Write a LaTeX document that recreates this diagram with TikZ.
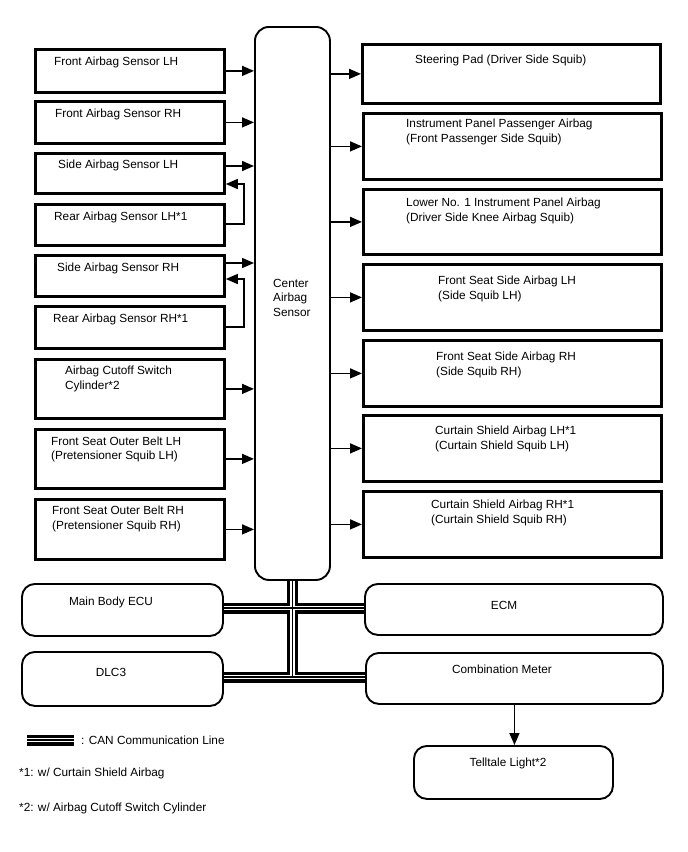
\documentclass[tikz,border=0pt]{standalone}
\usepackage{fontspec}
\setmainfont{Liberation Sans}
\usepackage{tikz}
\usetikzlibrary{arrows.meta,calc}

\begin{document}
\begin{tikzpicture}[x=1pt, y=-1pt,
    sbox/.style={rectangle, draw, line width=2.8pt, minimum width=189pt, anchor=north west},
    rbox/.style={rectangle, draw, line width=2.8pt, minimum width=298pt, anchor=north west},
    ubox/.style={rectangle, draw, rounded corners=13pt, line width=1.9pt, anchor=north west},
    lbl/.style={anchor=west, align=left, inner sep=0pt, font=\fontsize{11.8}{14.5}\selectfont},
    clbl/.style={lbl, anchor=center},
    arrow/.style={-{Triangle[length=12pt, width=10pt]}, line width=1.5pt},
    can/.style={line width=11pt, postaction={draw, white, line width=4.6pt, postaction={draw, black, line width=1.4pt}}}
]
    \useasboundingbox (0,0) rectangle (688,852);

    % Sensors (left column)
    \node[sbox, minimum height=43pt] (falh) at (34,48) {};
    \node[sbox, minimum height=42pt] (farh) at (34,100) {};
    \node[sbox, minimum height=40pt] (salh) at (34,152) {};
    \node[sbox, minimum height=41pt] (ralh) at (34,203) {};
    \node[sbox, minimum height=41pt] (sarh) at (34,254) {};
    \node[sbox, minimum height=42pt] (rarh) at (34,305) {};
    \node[sbox, minimum height=59pt] (acsc) at (34,358) {};
    \node[sbox, minimum height=59pt] (fsbl) at (34,428) {};
    \node[sbox, minimum height=60pt] (fsbr) at (34,498) {};

    \node[lbl] (falh-l) at (54,62) {Front Airbag Sensor LH};
    \node[lbl] (farh-l) at (55,114) {Front Airbag Sensor RH};
    \node[lbl] (salh-l) at (58,165) {Side Airbag Sensor LH};
    \node[lbl] (ralh-l) at (54,217) {Rear Airbag Sensor LH*1};
    \node[lbl] (sarh-l) at (57,268) {Side Airbag Sensor RH};
    \node[lbl] (rarh-l) at (53,319) {Rear Airbag Sensor RH*1};
    \node[lbl] (acsc-l) at (65,379) {Airbag Cutoff Switch\\Cylinder*2};
    \node[lbl] (fsbl-l) at (51,449.5) {Front Seat Outer Belt LH\\(Pretensioner Squib LH)};
    \node[lbl] (fsbr-l) at (52,519) {Front Seat Outer Belt RH\\(Pretensioner Squib RH)};

    % Center Airbag Sensor
    \node[ubox, rounded corners=14pt, minimum width=75pt, minimum height=553pt] (cas) at (254,26) {};
    \node[lbl] (cas-l) at (273,297.5) {Center\\Airbag\\Sensor};

    % Squibs (right column)
    \node[rbox, minimum height=59pt] (spad) at (361,43) {};
    \node[rbox, minimum height=66pt] (ipab) at (362,112) {};
    \node[rbox, minimum height=65pt] (lkab) at (362,188) {};
    \node[rbox, minimum height=66pt] (fsal) at (362,263) {};
    \node[rbox, minimum height=66pt] (fsar) at (362,339) {};
    \node[rbox, minimum height=66pt] (csal) at (362,414) {};
    \node[rbox, minimum height=66pt] (csar) at (362,490) {};

    \node[lbl] (spad-l) at (415,60) {Steering Pad (Driver Side Squib)};
    \node[lbl] (ipab-l) at (406,132) {Instrument Panel Passenger Airbag\\(Front Passenger Side Squib)};
    \node[lbl] (lkab-l) at (406,211) {Lower No. 1 Instrument Panel Airbag\\(Driver Side Knee Airbag Squib)};
    \node[lbl] (fsal-l) at (438,289) {Front Seat Side Airbag LH\\(Side Squib LH)};
    \node[lbl] (fsar-l) at (436,365) {Front Seat Side Airbag RH\\(Side Squib RH)};
    \node[lbl] (csal-l) at (435,439) {Curtain Shield Airbag LH*1\\(Curtain Shield Squib LH)};
    \node[lbl] (csar-l) at (431,513) {Curtain Shield Airbag RH*1\\(Curtain Shield Squib RH)};

    % CAN nodes
    \node[ubox, minimum width=201pt, minimum height=52pt] (mbecu) at (21,583) {};
    \node[ubox, minimum width=201pt, minimum height=54pt] (dlc) at (21,651) {};
    \node[ubox, minimum width=298pt, minimum height=51pt] (ecm) at (364,583) {};
    \node[ubox, minimum width=297pt, minimum height=51pt] (cmtr) at (365,652) {};
    \node[ubox, minimum width=199pt, minimum height=53pt] (tell) at (413,745) {};

    \node[clbl] (mbecu-l) at (111,602) {Main Body ECU};
    \node[clbl] (dlc-l) at (111,672) {DLC3};
    \node[clbl] (ecm-l) at (504,605) {ECM};
    \node[clbl] (cmtr-l) at (502,669) {Combination Meter};
    \node[clbl] (tell-l) at (508,763) {Telltale Light*2};

    % Arrows into the sensor
    \draw[arrow] (falh.east) -- (falh.east -| cas.west);
    \draw[arrow] (farh.east) -- (farh.east -| cas.west);
    \draw[arrow] (salh.east |- 0,166) -- (cas.west |- 0,166);
    \draw[arrow] (ralh.east |- 0,224) -- ++(18,0) |- (salh.east |- 0,184);
    \draw[arrow] (sarh.east |- 0,263) -- (cas.west |- 0,263);
    \draw[arrow] (rarh.east |- 0,327) -- ++(18,0) |- (sarh.east |- 0,279);
    \draw[arrow] (acsc.east) -- (acsc.east -| cas.west);
    \draw[arrow] (fsbl.east) -- (fsbl.east -| cas.west);
    \draw[arrow] (fsbr.east) -- (fsbr.east -| cas.west);

    % Arrows out to the squibs
    \draw[arrow] (cas.east |- spad.west) -- (spad.west);
    \draw[arrow] (cas.east |- ipab.west) -- (ipab.west);
    \draw[arrow] (cas.east |- lkab.west) -- (lkab.west);
    \draw[arrow] (cas.east |- fsal.west) -- (fsal.west);
    \draw[arrow] (cas.east |- fsar.west) -- (fsar.west);
    \draw[arrow] (cas.east |- csal.west) -- (csal.west);
    \draw[arrow] (cas.east |- csar.west) -- (csar.west);

    % CAN bus
    \draw[can] (cas.south) -- (cas.south |- 0,677)
        (mbecu.east |- 0,608) -- (ecm.west |- 0,608)
        (dlc.east |- 0,677) -- (cmtr.west |- 0,677);
    \draw[arrow] (cmtr.south) -- (cmtr.south |- tell.north);

    % Legend
    \coordinate (lga) at (27,740);
    \coordinate (lgb) at (74,740);
    \draw[can] (lga) -- (lgb);
    \node[lbl] (can-l) at (81,740) {: CAN Communication Line};
    \node[lbl] (n1-l) at (19,773) {*1: w/ Curtain Shield Airbag};
    \node[lbl] (n2-l) at (19,808) {*2: w/ Airbag Cutoff Switch Cylinder};
\end{tikzpicture}
\end{document}
